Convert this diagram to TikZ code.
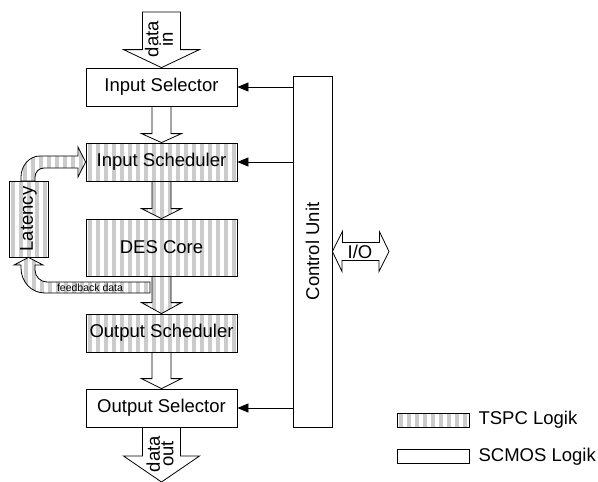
\documentclass[tikz,border=0pt]{standalone}
\usepackage{fontspec}
\setmainfont{Liberation Sans}
\usetikzlibrary{arrows.meta,calc,positioning}

\definecolor{stripegray}{HTML}{CBCBCB}

\tikzset{
  box/.style={minimum width=151pt, minimum height=38pt, inner sep=0pt,
              font=\fontsize{18.5}{22}\selectfont},
  % vertical grey stripes for the TSPC parts
  tspc/.style={draw, line width=0.8pt, fill=white,
    path picture={\foreach \sx in {2,10,...,450}
      \fill[stripegray] ([xshift=\sx pt]path picture bounding box.south west) rectangle ++(4pt,500pt);}},
  scmos/.style={draw, line width=0.8pt, fill=white},
  ctrl/.style={line width=0.8pt, -{Triangle[length=11pt,width=9pt]}},
}

% fat arrow: style, from, tip, shaft half width, head half width, head length
\newcommand{\fatarrow}[6]{%
  \draw[#1] ($(#2)+(-#4,0)$) -- ($(#3)+(-#4,-#6)$) -- ($(#3)+(-#5,-#6)$) -- (#3)
    -- ($(#3)+(#5,-#6)$) -- ($(#3)+(#4,-#6)$) -- ($(#2)+(#4,0)$) -- cycle;}

\begin{document}
\begin{tikzpicture}[x=1pt, y=-1pt]
    \useasboundingbox (0,0) rectangle (598,482);

    % Blocks
    \node[box, scmos] (isel) at (161.5,87) {Input Selector};
    \node[box, tspc] (isch) at (161.5,162) {Input Scheduler};
    \node[box, tspc, minimum height=57pt] (des) at (161.5,247.5) {DES Core};
    \node[box, tspc] (osch) at (161.5,333) {Output Scheduler};
    \node[box, scmos] (osel) at (161.5,408) {Output Selector};
    \node[box, scmos, minimum width=39pt, minimum height=351pt] (cu) at (312.5,251.5) {\rotatebox{90}{Control Unit}};
    \node[box, tspc, minimum width=39pt, minimum height=76pt] (lat) at (28.5,219) {\rotatebox{90}{Latency}};

    % Feedback loop
    \draw[tspc] (150,282) -- (47,282) .. controls (40.4,282) and (35,276.6) .. (35,270)
        -- (35,265) -- (43,265) -- (lat.south) -- (14,265) -- (21,265) -- (21,268)
        .. controls (21,281.8) and (31.2,293) .. (45,293) -- (150,293) -- cycle;
    \draw[tspc] (21,181) -- (21,177) .. controls (21,166) and (29,156) .. (40,156)
        -- (78,156) -- (78,147) -- (isch.west) -- (78,177) -- (78,168)
        -- (44,168) .. controls (39,168) and (35,172) .. (35,177) -- (35,181) -- cycle;
    \node[font=\fontsize{10.5}{12}\selectfont, inner sep=0pt] (fblbl) at (90,288) {feedback data};

    % Data path
    \coordinate (din) at (161.5,12);
    \coordinate (dout) at (161.5,482);
    \fatarrow{scmos}{din}{isel.north}{19}{38}{18}
    \fatarrow{scmos}{isel.south}{isch.north}{9.5}{20}{9}
    \fatarrow{tspc}{isch.south}{des.north}{9.5}{20}{10}
    \fatarrow{tspc}{des.south}{osch.north}{9.5}{20}{11}
    \fatarrow{scmos}{osch.south}{osel.north}{9.5}{20}{10}
    \fatarrow{scmos}{osel.south}{dout}{19}{38}{26}
    \node[rotate=90, align=center, inner sep=0pt, font=\fontsize{18.5}{13.5}\selectfont] (dinlbl) at (159,39) {data\\in};
    \node[rotate=90, align=center, inner sep=0pt, font=\fontsize{18.5}{13.5}\selectfont] (doutlbl) at (160,454) {data\\out};

    % Control lines
    \draw[ctrl] (cu.west |- isel.east) -- (isel.east);
    \draw[ctrl] (cu.west |- isch.east) -- (isch.east);
    \draw[ctrl] (cu.west |- osel.east) -- (osel.east);

    % I/O
    \coordinate (io) at (389,251.5);
    \draw[scmos] (cu.east) -- ++(10,-20) -- ++(0,11) -- ++(37,0) -- ++(0,-11) -- (io)
        -- ++(-10,20) -- ++(0,-11) -- ++(-37,0) -- ++(0,11) -- cycle;
    \node[inner sep=0pt, font=\fontsize{18.5}{22}\selectfont] (iolbl) at (360,252) {I/O};

    % Legend
    \node[tspc, minimum width=72pt, minimum height=14pt, inner sep=0pt] (lgtspc) at (433,420) {};
    \node[right=9pt of lgtspc, inner sep=0pt, font=\fontsize{18.5}{22}\selectfont] (lgtspctxt) {TSPC Logik};
    \node[scmos, minimum width=72pt, minimum height=14pt, inner sep=0pt] (lgscmos) at (433,456.5) {};
    \node[right=9pt of lgscmos, inner sep=0pt, font=\fontsize{18.5}{22}\selectfont] (lgscmostxt) {SCMOS Logik};
\end{tikzpicture}
\end{document}
